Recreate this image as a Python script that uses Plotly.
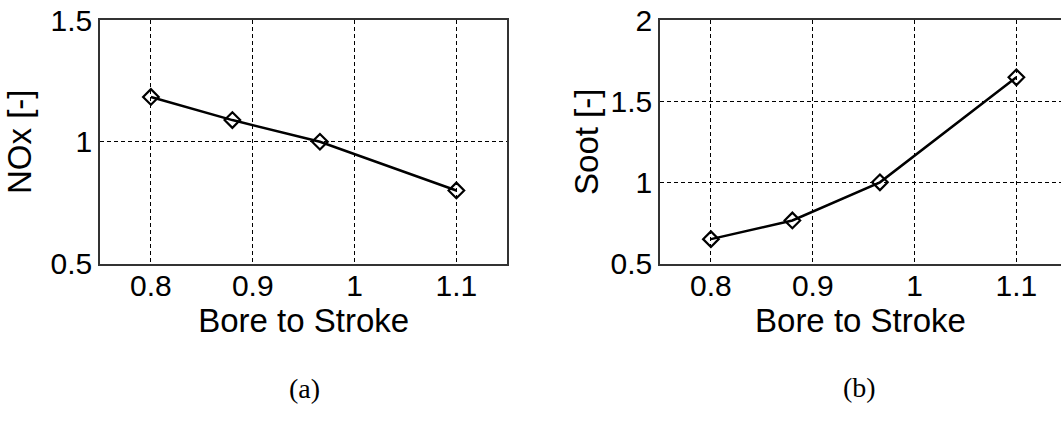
import plotly.graph_objects as go

W, H = 1061, 425

bore_to_stroke = [0.8, 0.88, 0.966, 1.1]
nox = [1.184, 1.089, 1.0, 0.80]
soot = [0.65, 0.765, 1.0, 1.647]

x_ticks = [0.8, 0.9, 1.0, 1.1]
x_ticktext = ["0.8", "0.9", "1", "1.1"]
nox_ticks = [0.5, 1.0, 1.5]
nox_ticktext = ["0.5", "1", "1.5"]
soot_ticks = [0.5, 1.0, 1.5, 2.0]
soot_ticktext = ["0.5", "1", "1.5", "2"]

TICKFONT = dict(family="Liberation Sans, Arial, sans-serif", size=30, color="black")
TITLEFONT = dict(family="Liberation Sans, Arial, sans-serif", size=33, color="black")
SERIF = dict(family="Liberation Serif, Times New Roman, serif", size=28, color="black")

fig = go.Figure()

line_style = dict(color="black", width=2.5)
marker_style = dict(symbol="diamond-open", size=12, color="black", line=dict(color="black", width=2.2))

fig.add_trace(go.Scatter(x=bore_to_stroke, y=nox, mode="lines+markers",
                         line=line_style, marker=marker_style,
                         xaxis="x", yaxis="y", showlegend=False))
fig.add_trace(go.Scatter(x=bore_to_stroke, y=soot, mode="lines+markers",
                         line=line_style, marker=marker_style,
                         xaxis="x2", yaxis="y2", showlegend=False))

left_px, right_px = 100, 507.3
top_px, bot_px = 20, 263.5
ydom = [1 - bot_px / H, 1 - top_px / H]
px_per_unit = (right_px - left_px) / 0.4
left2_px = 660
x2_max = 0.75 + (W - left2_px) / px_per_unit

grid = dict(showgrid=True, gridcolor="black", gridwidth=1.2, griddash="4px,3px",
            zeroline=False, showline=True, linecolor="#333333", linewidth=1.5,
            ticks="", tickfont=TICKFONT)

fig.update_layout(
    width=W, height=H,
    margin=dict(l=0, r=0, t=0, b=0),
    paper_bgcolor="white", plot_bgcolor="white",
    xaxis=dict(domain=[left_px / W, right_px / W], range=[0.75, 1.15],
               tickvals=x_ticks, ticktext=x_ticktext, mirror=True,
               ticklabelstandoff=-5,
               title=dict(text="Bore to Stroke", font=TITLEFONT, standoff=2),
               automargin=False, anchor="y", **grid),
    yaxis=dict(domain=ydom, range=[0.5, 1.5],
               tickvals=nox_ticks, ticktext=nox_ticktext, mirror=True,
               ticklabelstandoff=0,
               title=dict(text="NOx [-]", font=TITLEFONT, standoff=9),
               automargin=False, anchor="x", **grid),
    xaxis2=dict(domain=[left2_px / W, 1.0], range=[0.75, x2_max],
                tickvals=x_ticks, ticktext=x_ticktext, mirror=True,
                ticklabelstandoff=-5,
                title=dict(text="Bore to Stroke", font=TITLEFONT, standoff=2),
                automargin=False, anchor="y2", **grid),
    yaxis2=dict(domain=ydom, range=[0.5, 2.0],
                tickvals=soot_ticks, ticktext=soot_ticktext, mirror=False,
                ticklabelstandoff=0,
                title=dict(text="Soot [-]", font=TITLEFONT, standoff=2),
                automargin=False, anchor="x2", **grid),
    annotations=[
        dict(text="(a)", x=287 / W, y=1 - 406 / H, xref="paper", yref="paper",
             showarrow=False, font=SERIF),
        dict(text="(b)", x=878 / W, y=1 - 405 / H, xref="paper", yref="paper",
             showarrow=False, font=SERIF),
    ],
)

fig.write_html("out.html")
